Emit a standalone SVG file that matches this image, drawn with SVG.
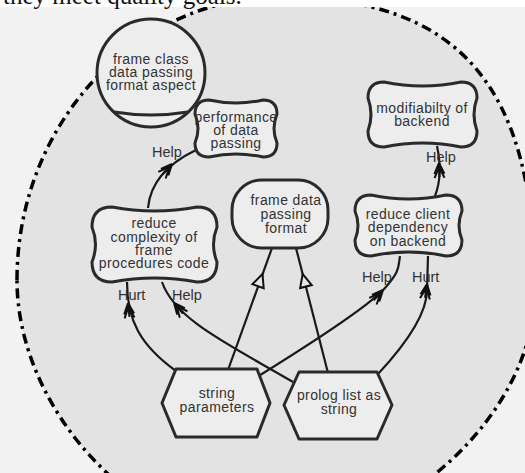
<svg xmlns="http://www.w3.org/2000/svg" xmlns:xlink="http://www.w3.org/1999/xlink" width="525" height="473" viewBox="0 0 525 473">
<style>
.t{font-family:"Liberation Sans",Arial,sans-serif;font-size:14px;letter-spacing:0.4px;fill:#333;text-anchor:middle}
.lbl{font-family:"Liberation Sans",Arial,sans-serif;font-size:14.5px;fill:#333}
.node{fill:#ededed;stroke:#2a2a2a;stroke-width:3;stroke-linejoin:round}
.ln{fill:none;stroke:#1a1a1a;stroke-width:2.2}
</style>
<defs>
<path id="ha" d="M0,0 L-11,-5 M0,0 L-11,5 M-4,0 L-15,-5 M-4,0 L-15,5 M0,0 L-14,0" fill="none" stroke="#111" stroke-width="2"/>
<path id="tri" d="M0,0 L-13,-6 L-13,6 Z" fill="#e8e8e8" stroke="#111" stroke-width="2"/>
</defs>
<rect x="0" y="0" width="525" height="473" fill="#f2f2f2"/>
<path id="boundary" d="M17,280 C17,124 135,-3 280,-3 C458,-3 535,85 535,290 C535,415 398,540 260,540 C138,540 17,410 17,280 Z" fill="#e3e3e3" stroke="#000" stroke-width="3.5" stroke-dasharray="10 5 3 5"/>
<rect x="0" y="0" width="525" height="7" fill="#fff"/>
<text x="3" y="4" font-family="'Liberation Serif','Times New Roman',serif" font-size="25" fill="#111">they meet quality goals.</text>
<g id="connectors">
<path class="ln" d="M148,208 C150,185 165,165 196,150"/>
<path class="ln" d="M435,196 C442,178 440,160 437,146"/>
<path class="ln" d="M176,371 C140,345 127,320 127,282"/>
<path class="ln" d="M293,382 C230,345 175,320 162,282"/>
<path class="ln" d="M228,370 L272,248"/>
<path class="ln" d="M328,373 L296,248"/>
<path class="ln" d="M257,377 C320,338 370,305 385,288 S398,268 400,256"/>
<path class="ln" d="M378,374 C405,345 427,315 427,290 L428,256"/>
<use xlink:href="#ha" transform="translate(172,164) rotate(-48)"/>
<use xlink:href="#ha" transform="translate(439,163) rotate(-92)"/>
<use xlink:href="#ha" transform="translate(128,303) rotate(-96)"/>
<use xlink:href="#ha" transform="translate(174,303) rotate(-130)"/>
<use xlink:href="#ha" transform="translate(383,290) rotate(-48)"/>
<use xlink:href="#ha" transform="translate(427,284) rotate(-82)"/>
<use xlink:href="#tri" transform="translate(262.5,274) rotate(-70)"/>
<use xlink:href="#tri" transform="translate(302.7,274) rotate(-104.5)"/>
<text class="lbl" x="152" y="157">Help</text>
<text class="lbl" x="426" y="162">Help</text>
<text class="lbl" x="118" y="300">Hurt</text>
<text class="lbl" x="172" y="300">Help</text>
<text class="lbl" x="362" y="282">Help</text>
<text class="lbl" x="412" y="282">Hurt</text>
</g>
<g id="frame-class-aspect">
<circle class="node" cx="151" cy="73" r="54"/>
<path d="M114,112 Q151,118 188,112" fill="none" stroke="#2a2a2a" stroke-width="3"/>
<text class="t" x="151" y="64">frame class</text>
<text class="t" x="151" y="77">data passing</text>
<text class="t" x="151" y="90">format aspect</text>
</g>
<g id="performance">
<path class="node" d="M209,100 Q236,106 263,100 Q277,100 277,114 Q271,128.5 277,143 Q277,157 263,157 Q236,151 209,157 Q195,157 195,143 Q201,128.5 195,114 Q195,100 209,100 Z"/>
<text class="t" x="236" y="122">performance</text>
<text class="t" x="236" y="135">of data</text>
<text class="t" x="236" y="148">passing</text>
</g>
<g id="modifiability">
<path class="node" d="M384,82 Q422.5,90 461,82 Q477,82 477,98 Q471,114.5 477,131 Q477,147 461,147 Q422.5,139 384,147 Q368,147 368,131 Q374,114.5 368,98 Q368,82 384,82 Z"/>
<text class="t" x="422" y="112.5">modifiabilty of</text>
<text class="t" x="422" y="126">backend</text>
</g>
<g id="reduce-client">
<path class="node" d="M371,195 Q408.5,203 446,195 Q462,195 462,211 Q456,225.5 462,240 Q462,256 446,256 Q408.5,248 371,256 Q355,256 355,240 Q361,225.5 355,211 Q355,195 371,195 Z"/>
<text class="t" x="408" y="218.5">reduce client</text>
<text class="t" x="408" y="232">dependency</text>
<text class="t" x="408" y="245.5">on backend</text>
</g>
<g id="reduce-complexity">
<path class="node" d="M112,207 Q154.5,215 197,207 Q217,207 217,227 Q210,244.5 217,262 Q217,282 197,282 Q154.5,274 112,282 Q92,282 92,262 Q99,244.5 92,227 Q92,207 112,207 Z"/>
<text class="t" x="154" y="228">reduce</text>
<text class="t" x="154" y="241.5">complexity of</text>
<text class="t" x="154" y="255">frame</text>
<text class="t" x="154" y="268">procedures code</text>
</g>
<g id="frame-data">
<rect class="node" x="232" y="180" width="96" height="68" rx="30" ry="30"/>
<text class="t" x="286" y="205">frame data</text>
<text class="t" x="286" y="219">passing</text>
<text class="t" x="286" y="233">format</text>
</g>
<g id="string-parameters">
<polygon class="node" points="162,403 176,369 257,369 270,403 257,437 176,437"/>
<text class="t" x="217" y="398">string</text>
<text class="t" x="217" y="412">parameters</text>
</g>
<g id="prolog-list">
<polygon class="node" points="284,405 299,372 377,372 392,405 377,439 299,439"/>
<text class="t" x="339" y="400">prolog list as</text>
<text class="t" x="339" y="414">string</text>
</g>
</svg>
